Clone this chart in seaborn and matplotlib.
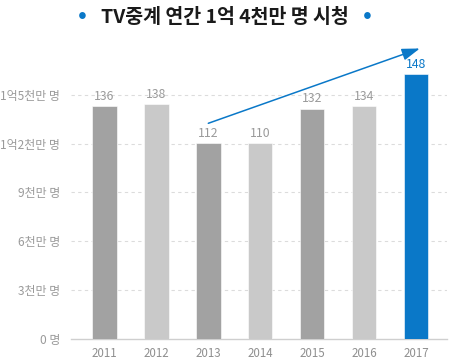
import numpy as np
import pandas as pd
import seaborn as sns
import matplotlib.pyplot as plt

# data (values in 백만 명); bar heights as drawn in the reference
years = ["2011", "2012", "2013", "2014", "2015", "2016", "2017"]
viewers = [136, 138, 112, 110, 132, 134, 148]
bar_heights = [143, 144.5, 120.5, 120.5, 141.5, 143, 162.5]
bar_colors = ["#a2a2a2", "#c9c9c9", "#a2a2a2", "#c9c9c9", "#a2a2a2", "#c9c9c9", "#0a78c8"]
y_ticks = [0, 30, 60, 90, 120, 150]
y_labels = ["0 명", "3천만 명", "6천만 명", "9천만 명", "1억2천만 명", "1억5천만 명"]
title = "TV중계 연간 1억 4천만 명 시청"

sns.set_theme(style="white")
plt.rcParams["font.family"] = ["Noto Sans CJK KR", "DejaVu Sans"]

df = pd.DataFrame({"year": years, "height": bar_heights})

fig = plt.figure(figsize=(4.5, 3.62), dpi=100)
ax = fig.add_axes([0.158, 0.064, 0.835, 0.812])

sns.barplot(data=df, x="year", y="height", hue="year", palette=bar_colors,
            legend=False, width=0.47, saturation=1, ax=ax, zorder=3)
for p in ax.patches:
    p.set_edgecolor("white")
    p.set_linewidth(0.4)

ax.set_xlim(-0.64, 6.59)
ax.set_ylim(0, 180.7)
ax.set_yticks(y_ticks)
ax.set_yticklabels(y_labels)
ax.set_xlabel("")
ax.set_ylabel("")
ax.tick_params(axis="y", length=0, pad=8, labelsize=8.6, labelcolor="#9a9a9a")
ax.tick_params(axis="x", length=0, pad=6, labelsize=8.3, labelcolor="#8f8f8f")

for y in y_ticks[1:]:
    ax.axhline(y, color="#dcdcdc", lw=0.8, ls=(0, (3, 3)), zorder=1)
for side in ["top", "right", "left"]:
    ax.spines[side].set_visible(False)
ax.spines["bottom"].set_color("#cfcfcf")
ax.spines["bottom"].set_linewidth(1)

for i, (h, v) in enumerate(zip(bar_heights, viewers)):
    color = "#0a78c8" if i == len(years) - 1 else "#9a9a9a"
    ax.text(i, h + 2, str(v), ha="center", va="bottom", fontsize=8.8, color=color)

# trend arrow from 2013 to 2017
ax.annotate("", xy=(6.07, bar_heights[6] + 16), xytext=(2, bar_heights[2] + 12),
            arrowprops=dict(arrowstyle="-|>,head_length=0.9,head_width=0.3",
                            color="#0a78c8", lw=1.1, shrinkA=0, shrinkB=0),
            zorder=4)

fig.text(0.5, 0.952, title, ha="center", va="center", fontsize=14,
         fontweight="bold", color="#1a1a1a")
fig.text(0.184, 0.958, "•", ha="center", va="center", fontsize=19, color="#0a78c8")
fig.text(0.816, 0.958, "•", ha="center", va="center", fontsize=19, color="#0a78c8")

fig.savefig("out.png", dpi=100)
